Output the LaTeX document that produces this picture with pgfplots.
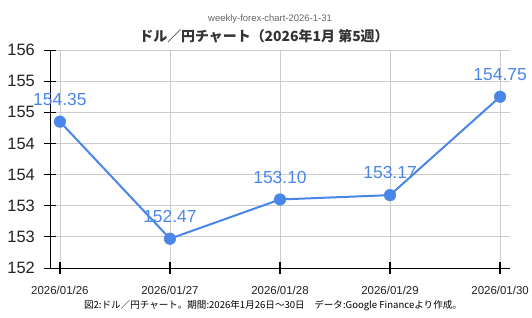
\documentclass[border=0pt]{standalone}
\usepackage{pgfplots}
\pgfplotsset{compat=1.18}
\usepackage{fontspec}
\setmainfont{Liberation Sans}
\newfontfamily\cjk{Noto Sans CJK JP}
\definecolor{lineblue}{RGB}{74,134,232}
\definecolor{gridgray}{RGB}{204,204,204}
\definecolor{txtdark}{RGB}{34,34,34}
\definecolor{titlegray}{RGB}{51,51,51}
\definecolor{subgray}{RGB}{102,102,102}
\begin{document}
\begin{tikzpicture}
\path[use as bounding box] (0,0) rectangle (532bp,318bp);
\begin{axis}[
  at={(50bp,50bp)}, anchor=south west,
  scale only axis, width=460bp, height=218bp,
  xmin=-0.09, xmax=4.09, ymin=152, ymax=155.5,
  axis x line=bottom, axis y line=left,
  axis line style={-, black, line width=1bp},
  xtick={0,1,2,3,4},
  xticklabels={2026/01/26,2026/01/27,2026/01/28,2026/01/29,2026/01/30},
  ytick={152,152.5,153,153.5,154,154.5,155,155.5},
  yticklabels={152,153,153,154,154,155,155,156},
  grid=major, major grid style={gridgray, line width=0.8bp},
  tick align=center, major tick length=12bp,
  xtick style={black, line width=1.8bp},
  ytick style={black, line width=1bp},
  /pgf/number format/assume math mode=true,
  yticklabel style={font=\fontsize{16.5}{18}\selectfont, text=txtdark, anchor=east, inner sep=0pt, xshift=-9bp},
  xticklabel style={font=\fontsize{11.5}{13}\selectfont, text=txtdark, anchor=north, inner sep=0pt, yshift=-12bp},
  clip=false,
]
\addplot[lineblue, line width=2bp, mark=*, mark size=5.8bp,
  mark options={fill=lineblue, draw=lineblue, line width=0.5bp},
  nodes near coords, point meta=explicit symbolic,
  nodes near coords style={font=\fontsize{17.5}{19}\selectfont, text=lineblue, anchor=south, inner sep=0pt, yshift=16bp}]
  table[meta=label] {
x y label
0 154.35 154.35
1 152.47 152.47
2 153.10 153.10
3 153.17 153.17
4 154.75 154.75
};
\end{axis}
\node[font=\fontsize{9.5}{11}\selectfont, text=subgray] at (270bp,299bp) {weekly-forex-chart-2026-1-31};
\node[font=\cjk\bfseries\fontsize{14}{16}\selectfont, text=titlegray] at (264bp,282bp) {ドル／円チャート（2026年1月 第5週）};
\node[font=\cjk\fontsize{9.6}{11}\selectfont, text=black] at (273bp,12bp) {図2:ドル／円チャート。期間:2026年1月26日～30日　データ:Google Financeより作成。};
\end{tikzpicture}
\end{document}
